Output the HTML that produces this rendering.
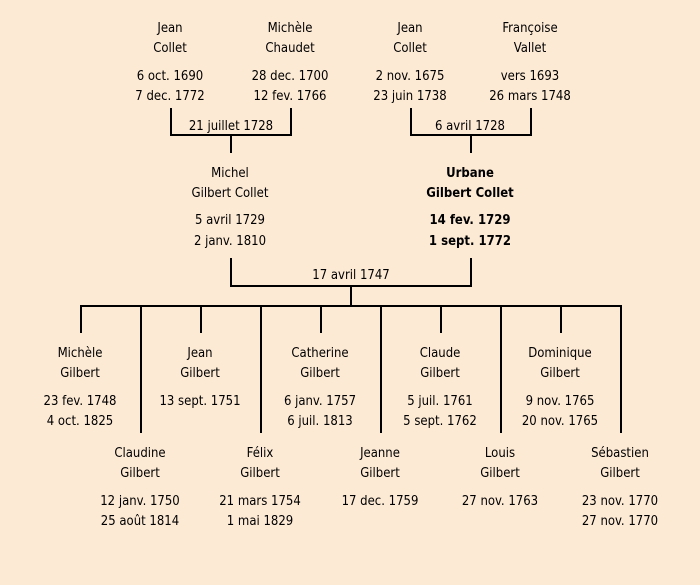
<!DOCTYPE html>
<html><head><meta charset="utf-8"><style>
html,body{margin:0;padding:0;background:#fdead5;}
svg{display:block}
text{font-family:"Comic Sans MS","DejaVu Sans Condensed","Liberation Sans",sans-serif;font-size:13px;fill:#000;text-anchor:middle;}
.b{font-weight:bold}
</style></head><body>
<svg width="700" height="585" viewBox="0 0 700 585">
<rect width="700" height="585" fill="#fdead5"/>
<g stroke="#000" stroke-width="2" fill="none">
<path d="M171 108V135H291V108M231 135V153"/>
<path d="M411 108V135H531V108M471 135V153"/>
<path d="M231 258V286H471V258M351 286V306"/>
<path d="M80 306H621"/>
<path d="M81 305V333M201 306V333M321 306V333M441 306V333M561 306V333"/>
<path d="M141 306V433M261 306V433M381 306V433M501 306V433M621 305V433"/>
</g>
<g>
<text x="170" y="32">Jean</text><text x="170" y="52">Collet</text><text x="170" y="80">6 oct. 1690</text><text x="170" y="100">7 dec. 1772</text>
<text x="290" y="32">Michèle</text><text x="290" y="52">Chaudet</text><text x="290" y="80">28 dec. 1700</text><text x="290" y="100">12 fev. 1766</text>
<text x="410" y="32">Jean</text><text x="410" y="52">Collet</text><text x="410" y="80">2 nov. 1675</text><text x="410" y="100">23 juin 1738</text>
<text x="530" y="32">Françoise</text><text x="530" y="52">Vallet</text><text x="530" y="80">vers 1693</text><text x="530" y="100">26 mars 1748</text>
<text x="231" y="130">21 juillet 1728</text>
<text x="470" y="130">6 avril 1728</text>
<text x="230" y="177">Michel</text><text x="230" y="197">Gilbert Collet</text><text x="230" y="224">5 avril 1729</text><text x="230" y="245">2 janv. 1810</text>
<text class="b" x="470" y="177">Urbane</text><text class="b" x="470" y="197">Gilbert Collet</text><text class="b" x="470" y="224">14 fev. 1729</text><text class="b" x="470" y="245">1 sept. 1772</text>
<text x="351" y="279">17 avril 1747</text>
<text x="80" y="357">Michèle</text><text x="80" y="377">Gilbert</text><text x="80" y="405">23 fev. 1748</text><text x="80" y="425">4 oct. 1825</text>
<text x="200" y="357">Jean</text><text x="200" y="377">Gilbert</text><text x="200" y="405">13 sept. 1751</text>
<text x="320" y="357">Catherine</text><text x="320" y="377">Gilbert</text><text x="320" y="405">6 janv. 1757</text><text x="320" y="425">6 juil. 1813</text>
<text x="440" y="357">Claude</text><text x="440" y="377">Gilbert</text><text x="440" y="405">5 juil. 1761</text><text x="440" y="425">5 sept. 1762</text>
<text x="560" y="357">Dominique</text><text x="560" y="377">Gilbert</text><text x="560" y="405">9 nov. 1765</text><text x="560" y="425">20 nov. 1765</text>
<text x="140" y="457">Claudine</text><text x="140" y="477">Gilbert</text><text x="140" y="505">12 janv. 1750</text><text x="140" y="525">25 août 1814</text>
<text x="260" y="457">Félix</text><text x="260" y="477">Gilbert</text><text x="260" y="505">21 mars 1754</text><text x="260" y="525">1 mai 1829</text>
<text x="380" y="457">Jeanne</text><text x="380" y="477">Gilbert</text><text x="380" y="505">17 dec. 1759</text>
<text x="500" y="457">Louis</text><text x="500" y="477">Gilbert</text><text x="500" y="505">27 nov. 1763</text>
<text x="620" y="457">Sébastien</text><text x="620" y="477">Gilbert</text><text x="620" y="505">23 nov. 1770</text><text x="620" y="525">27 nov. 1770</text>
</g>
</svg>
</body></html>
